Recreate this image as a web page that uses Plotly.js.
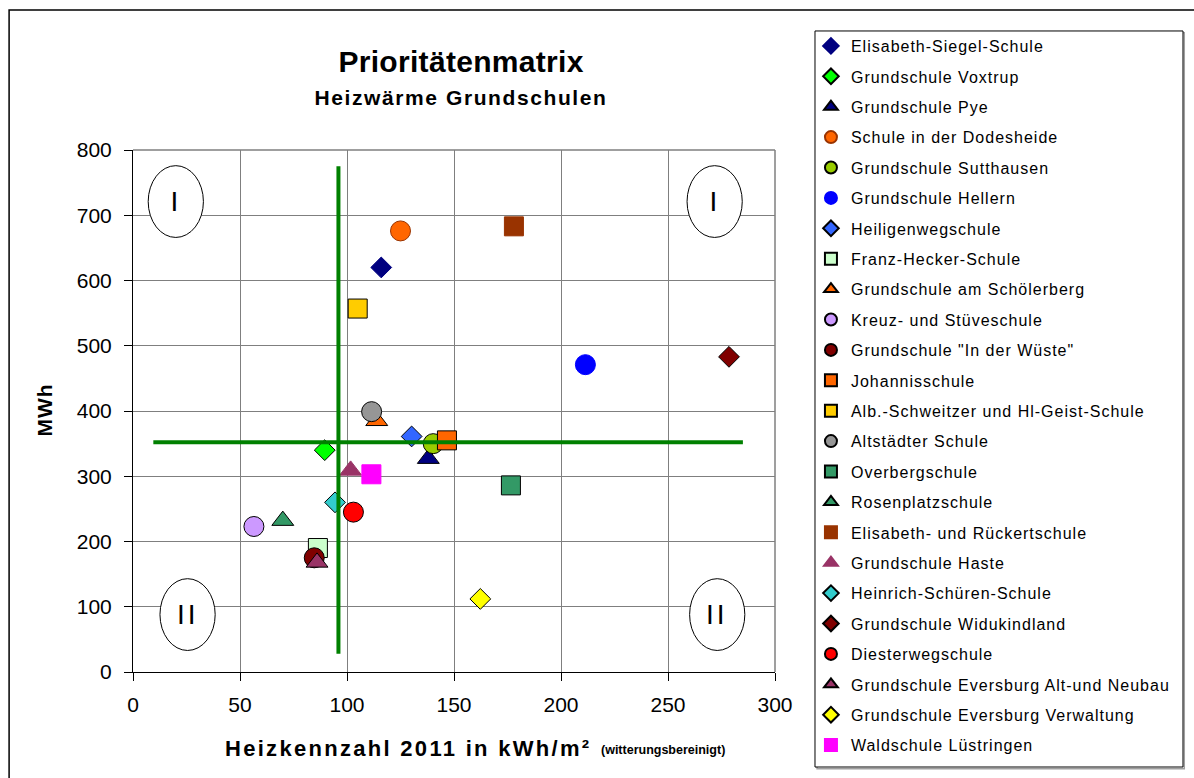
<!DOCTYPE html>
<html>
<head>
<meta charset="utf-8">
<script src="https://cdn.plot.ly/plotly-3.0.1.min.js"></script>
<style>html,body{margin:0;padding:0;background:#fff;}#chart{width:1194px;height:778px;}</style>
</head>
<body>
<div id="chart"></div>
<script>
// ---- data ----
const schools = [
  "Elisabeth-Siegel-Schule","Grundschule Voxtrup","Grundschule Pye","Schule in der Dodesheide",
  "Grundschule Sutthausen","Grundschule Hellern","Heiligenwegschule","Franz-Hecker-Schule",
  "Grundschule am Schölerberg","Kreuz- und Stüveschule","Grundschule \"In der Wüste\"","Johannisschule",
  "Alb.-Schweitzer und Hl-Geist-Schule","Altstädter Schule","Overbergschule","Rosenplatzschule",
  "Elisabeth- und Rückertschule","Grundschule Haste","Heinrich-Schüren-Schule","Grundschule Widukindland",
  "Diesterwegschule","Grundschule Eversburg Alt-und Neubau","Grundschule Eversburg Verwaltung","Waldschule Lüstringen"
];
const heizkennzahl = [116, 89.6, 138, 125, 140.3, 211.4, 130.2, 86.4, 113.9, 56.5, 84.7, 146.7, 105, 111.5, 176.6, 70, 178, 101.7, 94.4, 278.5, 103, 86, 162.3, 111.4];
const mwh =          [620, 340, 327, 676, 350, 471, 361, 190, 385, 223, 175, 355, 557, 399, 286, 232, 683, 309, 260, 483, 245, 168, 112, 303];
const symbols = ["diamond","diamond","triangle-up","circle","circle","circle","diamond","square",
  "triangle-up","circle","circle","square","square","circle","square","triangle-up",
  "square","triangle-up","diamond","diamond","circle","triangle-up","diamond","square"];
const fills = ["#000080","#00FF00","#000080","#FF6600","#99CC00","#0000FF","#3366FF","#CCFFCC",
  "#FF6600","#CC99FF","#800000","#FF6600","#FFCC00","#969696","#339966","#339966",
  "#993300","#993366","#33CCCC","#800000","#FF0000","#993366","#FFFF00","#FF00FF"];
const outlines = ["#000080","#000000","#000000","#993300","#000000","#0000FF","#000000","#000000",
  "#000000","#000000","#000000","#000000","#000000","#000000","#000000","#000000",
  "#993300","#993366","#000000","#000000","#000000","#000000","#000000","#FF00FF"];

const thresholdX = 96;    // vertical green line
const thresholdY = 352;   // horizontal green line
const vLineYRange = [28, 775];
const hLineXRange = [9.5, 285];

const quadLabels = ["I","I","II","II"];
const quadX = [20, 271.8, 25.5, 273];
const quadY = [721, 721, 88, 88];

const xTicks = [0,50,100,150,200,250,300];
const yTicks = [0,100,200,300,400,500,600,700,800];

const titleText = "Prioritätenmatrix";
const subtitleText = "Heizwärme Grundschulen";
const xTitleMain = "Heizkennzahl 2011 in kWh/m²";
const xTitleNote = "(witterungsbereinigt)";
const yTitleText = "MWh";

// ---- traces ----
const FONT = "Liberation Sans, Arial, sans-serif";
const sizeFor = s => s === "diamond" ? 16 : (s === "triangle-up" ? 19 : (s === "square" ? 19 : 20));
const traces = schools.map((name, i) => ({
  type: "scatter", mode: "markers", name: name,
  x: [heizkennzahl[i]], y: [mwh[i]],
  legendgroup: "g" + i,
  marker: {symbol: symbols[i], size: sizeFor(symbols[i]), color: fills[i], line: {color: outlines[i], width: 1}},
  hoverinfo: "name+x+y"
}));

const ew = 12.9, eh = 55;  // ellipse half-extent in data units
const shapes = [
  {type:"rect", xref:"paper", yref:"paper", x0:-0.193, x1:1.66, y0:-0.3, y1:1.268, line:{color:"#000", width:1.5}, layer:"below"},
  {type:"rect", xref:"paper", yref:"paper", x0:1.0655, x1:1.6375, y0:-0.1855, y1:1.2245, line:{color:"#a0a0a0", width:1.5}, layer:"below"},
  {type:"rect", xref:"paper", yref:"paper", x0:1.0623, x1:1.6355, y0:-0.182, y1:1.228, line:{color:"#000", width:1}, fillcolor:"#fff", layer:"below"},
  {type:"line", x0:thresholdX, x1:thresholdX, y0:vLineYRange[0], y1:vLineYRange[1], line:{color:"#008000", width:4}, layer:"above"},
  {type:"line", x0:hLineXRange[0], x1:hLineXRange[1], y0:thresholdY, y1:thresholdY, line:{color:"#008000", width:4}, layer:"above"},
  {type:"line", xref:"paper", yref:"paper", x0:1, x1:1, y0:0, y1:1, line:{color:"#7f7f7f", width:1.5}},
  {type:"line", xref:"paper", yref:"paper", x0:0, x1:1, y0:1, y1:1, line:{color:"#7f7f7f", width:1.5}}
];
quadX.forEach((cx, i) => {
  shapes.push({type:"circle", x0:cx-ew, x1:cx+ew, y0:quadY[i]-eh, y1:quadY[i]+eh, line:{color:"#000", width:1}, fillcolor:"#fff", layer:"above"});
});
// annotations with letter spacing applied after render
const spacing = [];
const annotations = [];
function addAnn(a, sp) { annotations.push(a); spacing.push(sp); }
addAnn({xref:"paper", yref:"paper", x:0.511, y:1.17, xanchor:"center", yanchor:"middle", showarrow:false,
   text:"<b>" + titleText + "</b>", font:{family:FONT, size:30, color:"#000"}}, "0.3px");
addAnn({xref:"paper", yref:"paper", x:0.511, y:1.101, xanchor:"center", yanchor:"middle", showarrow:false,
   text:"<b>" + subtitleText + "</b>", font:{family:FONT, size:21, color:"#000"}}, "1.6px");
addAnn({xref:"paper", yref:"paper", x:0.4276, y:-0.1456, xanchor:"center", yanchor:"middle", showarrow:false,
   text:"<b>" + xTitleMain + "</b>", font:{family:FONT, size:22, color:"#000"}}, "2.3px");
addAnn({xref:"paper", yref:"paper", x:0.8255, y:-0.1495, xanchor:"center", yanchor:"middle", showarrow:false,
   text:"<b>" + xTitleNote + "</b>", font:{family:FONT, size:12.5, color:"#000"}}, "0px");
addAnn({xref:"paper", yref:"paper", x:-0.137, y:0.502, xanchor:"center", yanchor:"middle", showarrow:false, textangle:-90,
   text:"<b>" + yTitleText + "</b>", font:{family:FONT, size:21, color:"#000"}}, "1px");
quadX.forEach((cx, i) => {
  addAnn({x:cx, y:quadY[i], text:quadLabels[i], showarrow:false, xanchor:"center", yanchor:"middle",
    font:{family:FONT, size:28, color:"#000"}}, "3px");
});

const layout = {
  width:1194, height:778,
  margin:{l:133, r:419, t:150, b:106},
  paper_bgcolor:"#fff", plot_bgcolor:"#fff",
  font:{family:FONT, color:"#000"},
  showlegend:true,
  legend:{x:1.056, y:1.2318, xanchor:"left", yanchor:"top", bgcolor:"rgba(0,0,0,0)", borderwidth:0,
    font:{size:16, color:"#000"}, traceorder:"grouped", tracegroupgap:6.6, itemsizing:"constant", maxheight:760},
  xaxis:{range:[0,300], tickvals:xTicks, ticks:"outside", ticklen:8, tickcolor:"#000",
    showline:true, linecolor:"#000", showgrid:true, gridcolor:"#7f7f7f", gridwidth:1,
    zeroline:false, tickfont:{size:21}, ticklabelstandoff:6, fixedrange:true},
  yaxis:{range:[0,800], tickvals:yTicks, ticks:"outside", ticklen:8, tickcolor:"#000",
    showline:true, linecolor:"#000", showgrid:true, gridcolor:"#7f7f7f", gridwidth:1,
    zeroline:false, tickfont:{size:21}, ticklabelstandoff:8, fixedrange:true},
  shapes: shapes,
  annotations: annotations
};
Plotly.newPlot("chart", traces, layout, {displayModeBar:false, staticPlot:true}).then(gd => {
  gd.querySelectorAll(".legend [clip-path]").forEach(el => el.removeAttribute("clip-path"));
  gd.querySelectorAll(".legendtext").forEach(t => { t.style.letterSpacing = "1px"; });
  gd.querySelectorAll("g.annotation").forEach(g => {
    const idx = +g.getAttribute("data-index");
    const t = g.querySelector("text");
    if (t && spacing[idx]) t.style.letterSpacing = spacing[idx];
  });
});
</script>
</body>
</html>
